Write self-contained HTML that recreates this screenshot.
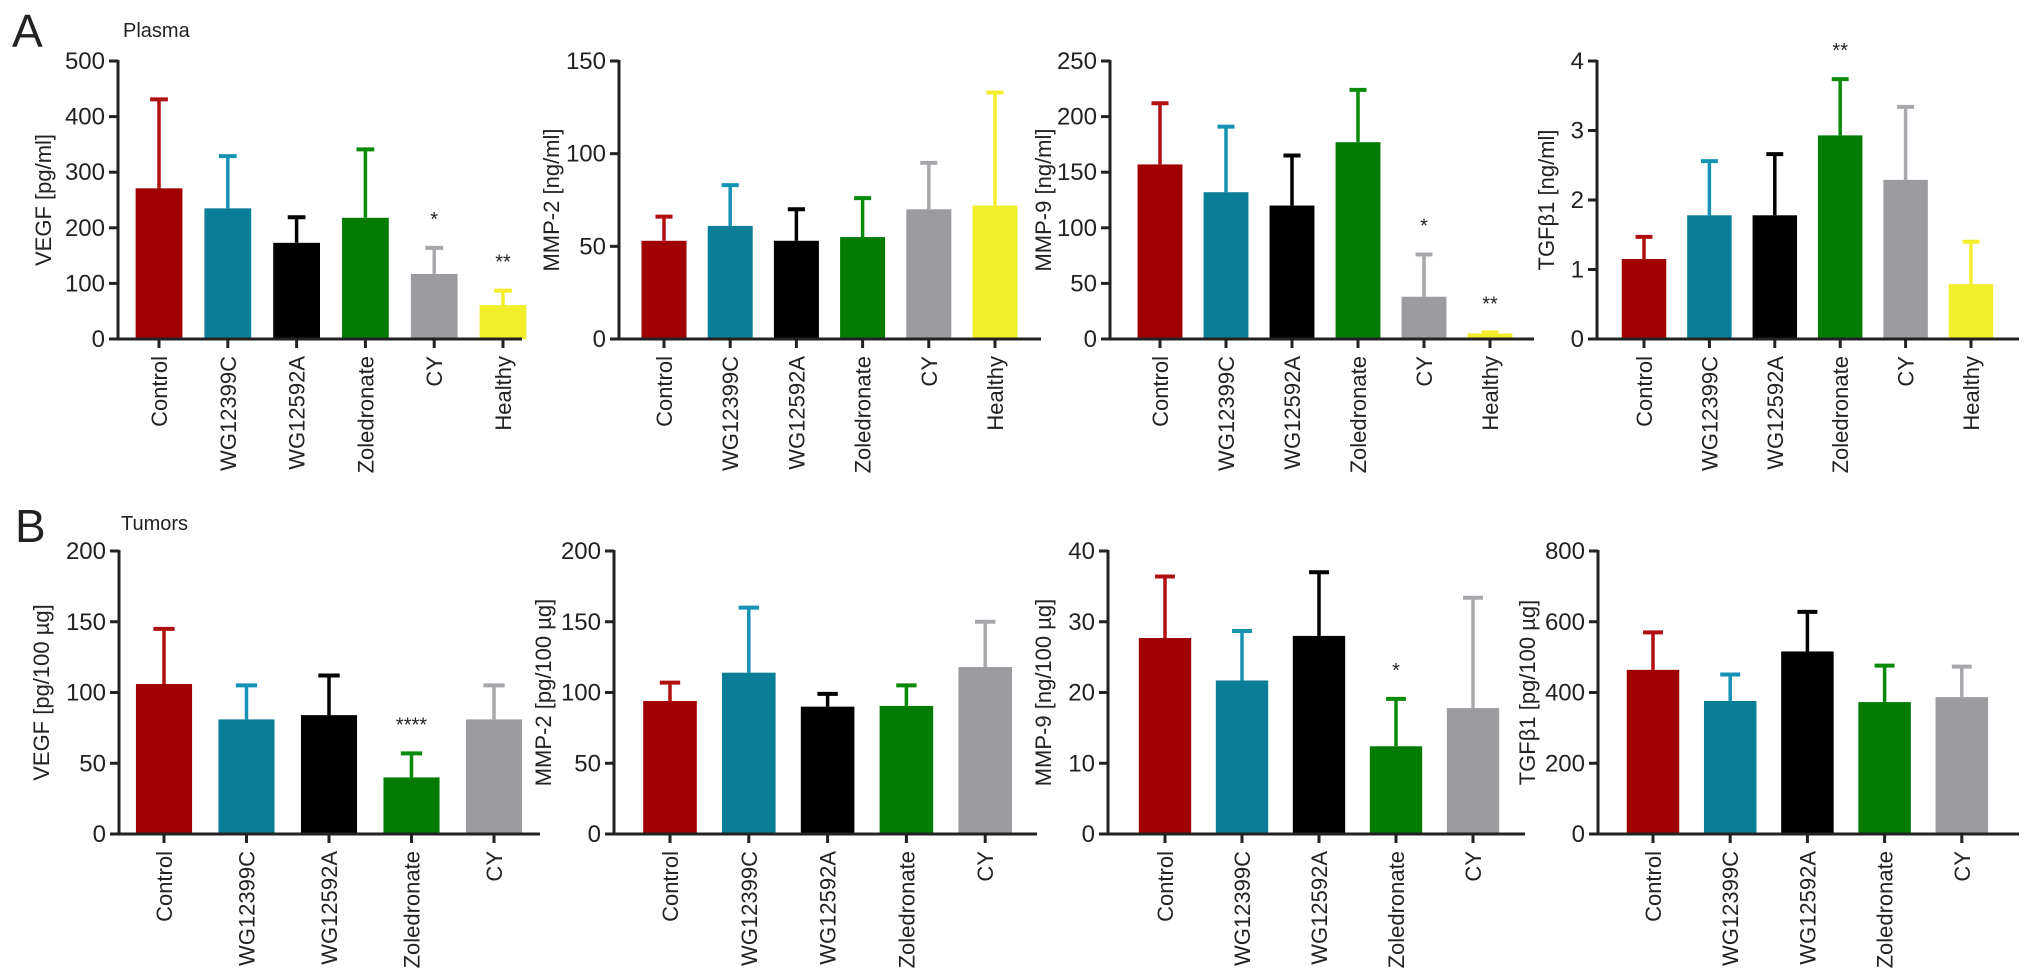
<!DOCTYPE html>
<html><head><meta charset="utf-8"><style>
html,body{margin:0;padding:0;background:#fff}
svg{display:block}
text{font-family:"Liberation Sans",sans-serif;fill:#222}
</style></head><body>
<svg id="fig" width="2032" height="976" viewBox="0 0 2032 976" xmlns="http://www.w3.org/2000/svg">
<text x="12" y="47" font-size="46">A</text>
<text x="123" y="37" font-size="20">Plasma</text>
<text x="15" y="542" font-size="46">B</text>
<text x="121" y="530" font-size="20">Tumors</text>
</svg>
<script>
const catsA = ["Control","WG12399C","WG12592A","Zoledronate","CY","Healthy"];
const catsB = ["Control","WG12399C","WG12592A","Zoledronate","CY"];
const colors = ["#a00000","#0a7e96","#000000","#047c04","#9c9ca0","#f3ee2c"];
const errColors = ["#b01010","#1592b4","#000000","#0a8a0a","#a8a8ac","#f3ee2c"];

const a1Vals = [271,235,173,218,117,61];
const a1Errs = [431,329,219,341,164,87];
const a1Stars = ["","","","","*","**"];
const a2Vals = [53,61,53,55,70,72];
const a2Errs = [66,83,70,76,95,133];
const a2Stars = ["","","","","",""];
const a3Vals = [157,132,120,177,38,5];
const a3Errs = [212,191,165,224,76,6];
const a3Stars = ["","","","","*","**"];
const a4Vals = [1.15,1.78,1.78,2.93,2.29,0.79];
const a4Errs = [1.47,2.56,2.66,3.74,3.34,1.40];
const a4Stars = ["","","","**","",""];
const b1Vals = [106,81,84,40,81];
const b1Errs = [145,105,112,57,105];
const b1Stars = ["","","","****",""];
const b2Vals = [94,114,90,90.5,118];
const b2Errs = [107,160,99,105,150];
const b2Stars = ["","","","",""];
const b3Vals = [27.7,21.7,28,12.4,17.8];
const b3Errs = [36.4,28.7,37,19.1,33.4];
const b3Stars = ["","","","*",""];
const b4Vals = [464,376,516,373,387];
const b4Errs = [570,451,628,476,473];
const b4Stars = ["","","","",""];

const a1Ticks = [0,100,200,300,400,500];
const a2Ticks = [0,50,100,150];
const a3Ticks = [0,50,100,150,200,250];
const a4Ticks = [0,1,2,3,4];
const b1Ticks = [0,50,100,150,200];
const b2Ticks = [0,50,100,150,200];
const b3Ticks = [0,10,20,30,40];
const b4Ticks = [0,200,400,600,800];

const NS = "http://www.w3.org/2000/svg";
const svg = document.getElementById("fig");
function mk(tag, attrs, parent){
  const e = document.createElementNS(NS, tag);
  for (const k in attrs) e.setAttribute(k, attrs[k]);
  (parent||svg).appendChild(e);
  return e;
}

function panel(id, L, cats, vals, errs, stars, ticks, title){
  const g = mk("g", {});
  
  
  const max = ticks[ticks.length-1];
  const y = v => L.bot - (v / max) * (L.bot - L.top);
  const x = i => L.c0 + i * L.step;
  const bw = L.step * 0.68;
  cats.forEach((c, i) => {
    const r = mk("rect", {x: x(i)-bw/2, y: y(vals[i]), width: bw, height: L.bot - y(vals[i]), fill: colors[i]}, g);
    
    
    const ec = errColors[i];
    const ln = mk("line", {x1: x(i), x2: x(i), y1: y(vals[i]), y2: y(errs[i]), stroke: ec, "stroke-width": 3.5}, g);
    
    
    const cw = bw * 0.19;
    const cp = mk("line", {x1: x(i)-cw, x2: x(i)+cw, y1: y(errs[i]), y2: y(errs[i]), stroke: ec, "stroke-width": 4}, g);
    
    
    if (stars[i]) {
      const s = mk("text", {x: x(i), y: y(errs[i]) - 22, "font-size": 20, "text-anchor": "middle"}, g);
      s.textContent = stars[i];
      
      
    }
    mk("line", {x1: x(i), x2: x(i), y1: L.bot, y2: L.bot + 9, stroke: "#222", "stroke-width": 3}, g);
    const t = mk("text", {x: 0, y: 0, "font-size": 22, "text-anchor": "end",
      transform: "translate(" + (x(i) + 8) + "," + (L.bot + 17) + ") rotate(-90)"}, g);
    t.textContent = c;
    
    
  });
  const ya = mk("line", {x1: L.ax, x2: L.ax, y1: L.top - 1, y2: L.bot + 1.5, stroke: "#222", "stroke-width": 3}, g);
  
  
  const xa = mk("line", {x1: L.ax - 9, x2: L.end, y1: L.bot, y2: L.bot, stroke: "#222", "stroke-width": 3}, g);
  
  
  ticks.forEach(tv => {
    mk("line", {x1: L.ax - 9, x2: L.ax, y1: y(tv), y2: y(tv), stroke: "#222", "stroke-width": 3}, g);
    const tl = mk("text", {x: L.ax - 13, y: y(tv) + 8, "font-size": 24, "text-anchor": "end"}, g);
    tl.textContent = tv;
    
    
  });
  const yt = mk("text", {x: 0, y: 0, "font-size": 22, "text-anchor": "middle",
    transform: "translate(" + (L.tx + 8) + "," + ((L.top + L.bot) / 2) + ") rotate(-90)"}, g);
  yt.textContent = title;
  
  
}

panel("vegf-plasma", {ax:118,c0:159,step:68.8,end:522,top:61,bot:339,tx:43}, catsA, a1Vals, a1Errs, a1Stars, a1Ticks, "VEGF [pg/ml]");
panel("mmp2-plasma", {ax:619,c0:664,step:66.2,end:1041,top:61,bot:339,tx:551}, catsA, a2Vals, a2Errs, a2Stars, a2Ticks, "MMP-2 [ng/ml]");
panel("mmp9-plasma", {ax:1110,c0:1160,step:66,end:1534,top:61,bot:339,tx:1043}, catsA, a3Vals, a3Errs, a3Stars, a3Ticks, "MMP-9 [ng/ml]");
panel("tgfb1-plasma", {ax:1597,c0:1644,step:65.4,end:2019,top:61,bot:339,tx:1546}, catsA, a4Vals, a4Errs, a4Stars, a4Ticks, "TGFβ1 [ng/ml]");
panel("vegf-tumors", {ax:119,c0:164,step:82.5,end:540,top:551,bot:834,tx:41}, catsB, b1Vals, b1Errs, b1Stars, b1Ticks, "VEGF [pg/100 µg]");
panel("mmp2-tumors", {ax:614,c0:670,step:78.8,end:1037,top:551,bot:834,tx:543}, catsB, b2Vals, b2Errs, b2Stars, b2Ticks, "MMP-2 [pg/100 µg]");
panel("mmp9-tumors", {ax:1108,c0:1165,step:77,end:1525,top:551,bot:834,tx:1043}, catsB, b3Vals, b3Errs, b3Stars, b3Ticks, "MMP-9 [ng/100 µg]");
panel("tgfb1-tumors", {ax:1598,c0:1653,step:77.2,end:2019,top:551,bot:834,tx:1527}, catsB, b4Vals, b4Errs, b4Stars, b4Ticks, "TGFβ1 [pg/100 µg]");
</script>
</body></html>
